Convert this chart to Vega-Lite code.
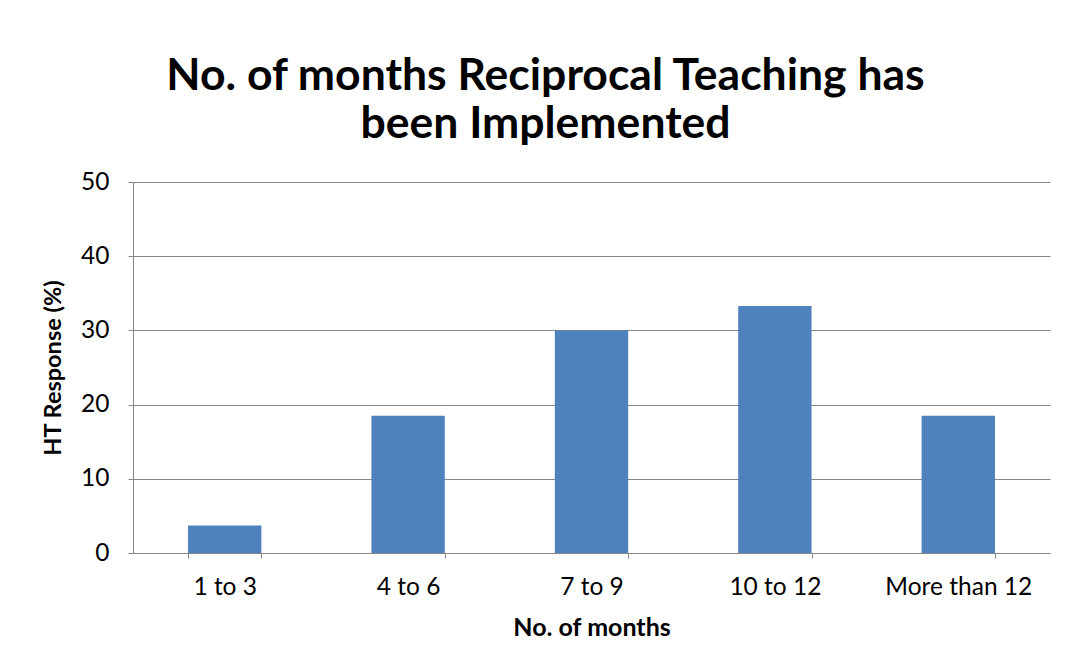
{
  "$schema": "https://vega.github.io/schema/vega-lite/v6.json",
  "width": 917,
  "height": 371,
  "autosize": {"type": "none"},
  "padding": {"left": 133, "top": 182, "right": 23, "bottom": 119},
  "background": "white",
  "config": {"view": {"stroke": null}, "font": "Lato"},
  "title": {
    "text": ["No. of months Reciprocal Teaching has", "been Implemented"],
    "fontSize": 44.5,
    "fontWeight": "bold",
    "font": "Lato",
    "color": "black",
    "anchor": "middle",
    "dx": -46,
    "offset": 22,
    "lineHeight": 48
  },
  "data": {
    "values": [
      {"months": "1 to 3", "pct": 3.7},
      {"months": "4 to 6", "pct": 18.5},
      {"months": "7 to 9", "pct": 30},
      {"months": "10 to 12", "pct": 33.3},
      {"months": "More than 12", "pct": 18.5}
    ]
  },
  "mark": {"type": "bar", "color": "#4F81BD"},
  "encoding": {
    "x": {
      "field": "months",
      "type": "nominal",
      "sort": null,
      "scale": {"paddingInner": 0.6, "paddingOuter": 0.3},
      "axis": {
        "title": "No. of months",
        "labelAngle": 0,
        "tickBand": "extent",
        "labelFontSize": 24.5,
        "labelColor": "black",
        "labelPadding": 17,
        "tickSize": 5,
        "tickColor": "#868686",
        "domainColor": "#868686",
        "titleFontSize": 25,
        "titleFontWeight": "bold",
        "titleColor": "black",
        "titlePadding": 17
      }
    },
    "y": {
      "field": "pct",
      "type": "quantitative",
      "scale": {"domain": [0, 50]},
      "axis": {
        "title": "HT Response (%)",
        "values": [0, 10, 20, 30, 40, 50],
        "gridColor": "#868686",
        "tickColor": "#868686",
        "domainColor": "#868686",
        "tickSize": 5,
        "labelFontSize": 24.5,
        "labelColor": "black",
        "labelPadding": 19,
        "titleFontSize": 23.5,
        "titleFontWeight": "bold",
        "titleColor": "black",
        "titlePadding": 15
      }
    }
  }
}
